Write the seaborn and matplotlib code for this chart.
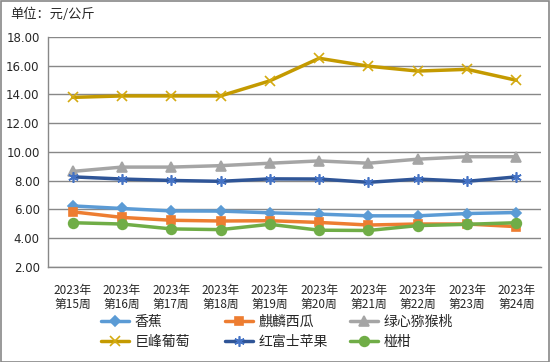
import numpy as np
import pandas as pd
import matplotlib
matplotlib.use('Agg')
import matplotlib.pyplot as plt
import seaborn as sns
from matplotlib.patches import Rectangle

sns.set_style('white')
plt.rcParams['font.family'] = ['Noto Sans CJK SC', 'DejaVu Sans']

weeks = ['2023年\n第%d周' % w for w in range(15, 25)]

banana = [6.25, 6.07, 5.90, 5.89, 5.77, 5.68, 5.56, 5.56, 5.72, 5.79]
watermelon = [5.84, 5.45, 5.25, 5.20, 5.22, 5.10, 4.92, 4.99, 4.99, 4.81]
kiwi = [8.65, 8.95, 8.95, 9.05, 9.22, 9.38, 9.22, 9.50, 9.67, 9.67]
grape = [13.80, 13.90, 13.90, 13.90, 14.95, 16.52, 15.97, 15.63, 15.75, 14.99]
apple = [8.27, 8.12, 8.02, 7.96, 8.13, 8.12, 7.89, 8.12, 7.96, 8.27]
orange = [5.08, 4.99, 4.65, 4.60, 4.97, 4.56, 4.54, 4.88, 4.97, 5.08]

names = ['香蕉', '麒麟西瓜', '绿心猕猴桃', '巨峰葡萄', '红富士苹果', '椪柑']
values = [banana, watermelon, kiwi, grape, apple, orange]
colors = ['#5B9BD5', '#ED7D31', '#A5A5A5', '#C49A00', '#2F5597', '#70AD47']
mcolors = ['#5B9BD5', '#ED7D31', '#A5A5A5', '#D4AA10', '#4472C4', '#70AD47']
markers = ['D', 's', '^', 'x', (6, 2, 0), 'o']
msizes = [5.5, 5.5, 7, 7.5, 7.5, 7]

fig = plt.figure(figsize=(5.5, 3.62), dpi=100)
ax = fig.add_axes([48 / 550, 1 - 267 / 362, 493 / 550, 230 / 362])

x = np.arange(len(weeks))
for name, vals, c, mc, m, ms in zip(names, values, colors, mcolors, markers, msizes):
    sns.lineplot(x=x, y=vals, ax=ax, color=c, lw=2.5, marker=m, markersize=ms,
                 markerfacecolor=mc, markeredgecolor=mc, markeredgewidth=1.2,
                 label=name)

ax.set_ylim(2, 18)
ax.set_yticks(np.arange(2, 18.1, 2))
ax.set_yticklabels(['%.2f' % v for v in np.arange(2, 18.1, 2)], fontsize=8.5,
                   family=['DejaVu Sans'])
ax.set_xlim(-0.5, len(weeks) - 0.5)
ax.set_xticks(x)
ax.set_xticklabels(weeks, fontsize=8.5, linespacing=1.15)
ax.set_xticks(np.arange(-0.5, len(weeks)), minor=True)
ax.tick_params(axis='x', which='major', length=0, pad=12)
ax.tick_params(axis='x', which='minor', length=5, color='#888888', width=1, direction='out')
ax.tick_params(axis='y', length=0, pad=6)
ax.grid(axis='y', color='#888888', lw=1)
ax.set_axisbelow(True)
for s in ['top', 'right']:
    ax.spines[s].set_visible(False)
for s in ['left', 'bottom']:
    ax.spines[s].set_color('#888888')
    ax.spines[s].set_linewidth(1)
ax.set_xlabel('')
ax.set_ylabel('')

# legend: 3 fixed-width columns, filled row by row
handles, labels = ax.get_legend_handles_labels()
ax.get_legend().remove()
col_x = [101, 225, 350]
for i, cx in enumerate(col_x):
    fig.legend([handles[i], handles[i + 3]], [labels[i], labels[i + 3]],
               loc='upper left', bbox_to_anchor=(cx / 550, 1 - 315 / 362),
               bbox_transform=fig.transFigure, frameon=False, fontsize=10,
               handlelength=2.0, handletextpad=0.4, labelspacing=0.42,
               borderpad=0, borderaxespad=0)

fig.text(10 / 550, 1 - 14 / 362, '单位：元/公斤', fontsize=9.5, va='center', ha='left')
fig.patches.append(Rectangle((0.001, 0.001), 0.997, 0.996, transform=fig.transFigure,
                             fill=False, edgecolor='#888888', lw=1.2))

fig.savefig('out.png', dpi=100)
